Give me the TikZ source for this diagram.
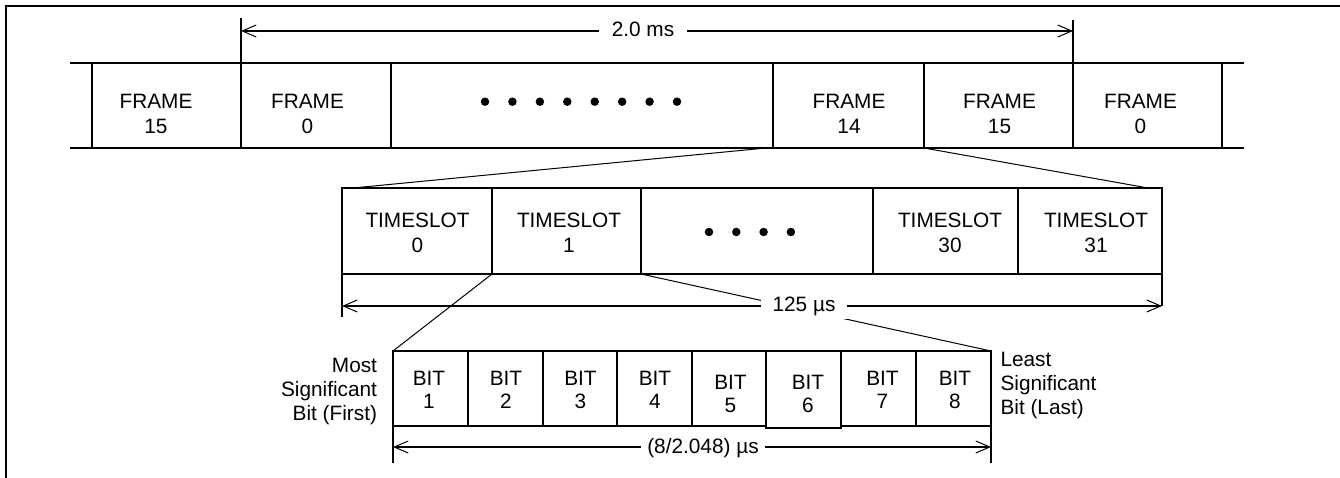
\documentclass[tikz,border=0pt]{standalone}
\usepackage{fontspec}
\setmainfont{Liberation Sans}
\usetikzlibrary{arrows.meta,calc}
\begin{document}
\begin{tikzpicture}[x=1pt,y=-1pt,
  every node/.style={font=\fontsize{20.8}{25}\selectfont, inner sep=0pt, outer sep=0pt},
  cellbox/.style={draw, line width=1.8pt, inner sep=0pt, outer sep=0pt},
  lbl/.style={align=center},
  bitlbl/.style={align=center, font=\fontsize{20.8}{23}\selectfont},
  sidelbl/.style={font=\fontsize{20.8}{24}\selectfont},
  fan/.style={line width=1pt},
  barb/.tip={Straight Barb[length=14pt,width=12pt,line width=1pt]},
  dimline/.style={line width=1.6pt, barb-barb},
  extline/.style={line width=1.8pt},
  dimlbl/.style={fill=white, inner ysep=3pt, anchor=base},
  dotmark/.style={circle, fill=black, minimum size=8.5pt, inner sep=0pt}
]
\useasboundingbox (0,0) rectangle (1340,478);
% outer border
\draw[line width=2pt] (6,478) -- (6,6) -- (1340,6);

% ---------------- frame row ----------------
\node[cellbox, minimum width=149pt, minimum height=85pt] (f15a) at (166.5,105.5) {};
\node[cellbox, minimum width=150pt, minimum height=85pt] (f0a)  at (316,105.5) {};
\node[cellbox, minimum width=382pt, minimum height=85pt] (fdot) at (582,105.5) {};
\node[cellbox, minimum width=151pt, minimum height=85pt] (f14)  at (848.5,105.5) {};
\node[cellbox, minimum width=149pt, minimum height=85pt] (f15b) at (998.5,105.5) {};
\node[cellbox, minimum width=149pt, minimum height=85pt] (f0b)  at (1147.5,105.5) {};
\draw[extline] (f15a.north west) -- ++(-22,0);
\draw[extline] (f15a.south west) -- ++(-22,0);
\draw[extline] (f0b.north east) -- ++(22,0);
\draw[extline] (f0b.south east) -- ++(22,0);

\node[lbl] (tf15a) at (156,114) {FRAME\\15};
\node[lbl] (tf0a)  at (307.5,114) {FRAME\\0};
\node[lbl] (tf14)  at (849,114) {FRAME\\14};
\node[lbl] (tf15b) at (999.5,114) {FRAME\\15};
\node[lbl] (tf0b)  at (1140.5,114) {FRAME\\0};
\foreach \i in {0,...,7} \node[dotmark] (fd\i) at ({485+\i*27.43},101.7) {};

% 2.0 ms dimension
\draw[extline] (f0a.north west) -- ++(0,-45);
\draw[extline] (f0b.north west) -- ++(0,-43);
\coordinate (d2a) at (241,31);
\coordinate (d2b) at (1073,31);
\draw[dimline] (d2a) -- (d2b);
\node[dimlbl, inner xsep=13pt] (l2ms) at (643,36.5) {2.0 ms};

% ---------------- timeslot row ----------------
\node[cellbox, minimum width=150pt, minimum height=86pt] (ts0)   at (417,231) {};
\node[cellbox, minimum width=149pt, minimum height=86pt] (ts1)   at (566.5,231) {};
\node[cellbox, minimum width=232pt, minimum height=86pt] (tsdot) at (757,231) {};
\node[cellbox, minimum width=145pt, minimum height=86pt] (ts30)  at (945.5,231) {};
\node[cellbox, minimum width=144pt, minimum height=86pt] (ts31)  at (1090,231) {};
\node[lbl] (tts0)  at (417.5,233) {TIMESLOT\\0};
\node[lbl] (tts1)  at (569,233) {TIMESLOT\\1};
\node[lbl] (tts30) at (950,233) {TIMESLOT\\30};
\node[lbl] (tts31) at (1096,233) {TIMESLOT\\31};
\foreach \i in {0,...,3} \node[dotmark] (td\i) at ({709+\i*27.3},232) {};

% fan lines frame -> timeslots
\draw[fan] ([xshift=-7pt]f14.south west) -- ([xshift=11pt]ts0.north west);
\draw[fan] (f15b.south west) -- ([xshift=-14pt]ts31.north east);

% ---------------- bit row ----------------
\node[cellbox, minimum width=75pt, minimum height=75pt] (b1) at (430.5,388.5) {};
\node[cellbox, minimum width=75pt, minimum height=75pt] (b2) at (505.5,388.5) {};
\node[cellbox, minimum width=74pt, minimum height=75pt] (b3) at (580,388.5) {};
\node[cellbox, minimum width=75pt, minimum height=75pt] (b4) at (654.5,388.5) {};
\node[cellbox, minimum width=74pt, minimum height=75pt] (b5) at (729,388.5) {};
\node[cellbox, minimum width=75pt, minimum height=75pt] (b7) at (878.5,388.5) {};
\node[cellbox, minimum width=75pt, minimum height=75pt] (b8) at (953.5,388.5) {};
\node[cellbox, fill=white, minimum width=75pt, minimum height=77pt] (b6) at (803.5,389.5) {};
\node[bitlbl] (tb1) at (429,390.3) {BIT\\1};
\node[bitlbl] (tb2) at (506,390.3) {BIT\\2};
\node[bitlbl] (tb3) at (580.5,390.3) {BIT\\3};
\node[bitlbl] (tb4) at (655,390.3) {BIT\\4};
\node[bitlbl] (tb5) at (730.5,393.8) {BIT\\5};
\node[bitlbl] (tb6) at (808,393.8) {BIT\\6};
\node[bitlbl] (tb7) at (882.5,390.3) {BIT\\7};
\node[bitlbl] (tb8) at (955,390.3) {BIT\\8};

\node[sidelbl, align=right, anchor=north east] (msb) at (377,358) {Most\\Significant\\Bit (First)};
\node[sidelbl, align=left, anchor=north west] (lsb) at (1000.5,352) {Least\\Significant\\Bit (Last)};

% fan lines timeslot 1 -> bits
\draw[fan] (ts1.south west) -- (b1.north west);
\draw[fan] (ts1.south east) -- (b8.north east);

% 125 us dimension
\draw[extline] (ts0.south west) -- ++(0,43);
\draw[extline] (ts31.south east) -- ++(0,32);
\coordinate (d125a) at (342,306);
\coordinate (d125b) at (1162,306);
\draw[dimline] (d125a) -- (d125b);
\node[dimlbl, inner xsep=12pt] (l125) at (804,311.5) {125 µs};

% bit-time dimension
\draw[extline] (b1.south west) -- ++(0,37);
\draw[extline] (b8.south east) -- ++(0,37);
\coordinate (dba) at (393,447);
\coordinate (dbb) at (991,447);
\draw[dimline] (dba) -- (dbb);
\node[dimlbl, inner xsep=6pt] (lbit) at (703,453.5) {(8/2.048) µs};
\end{tikzpicture}
\end{document}
